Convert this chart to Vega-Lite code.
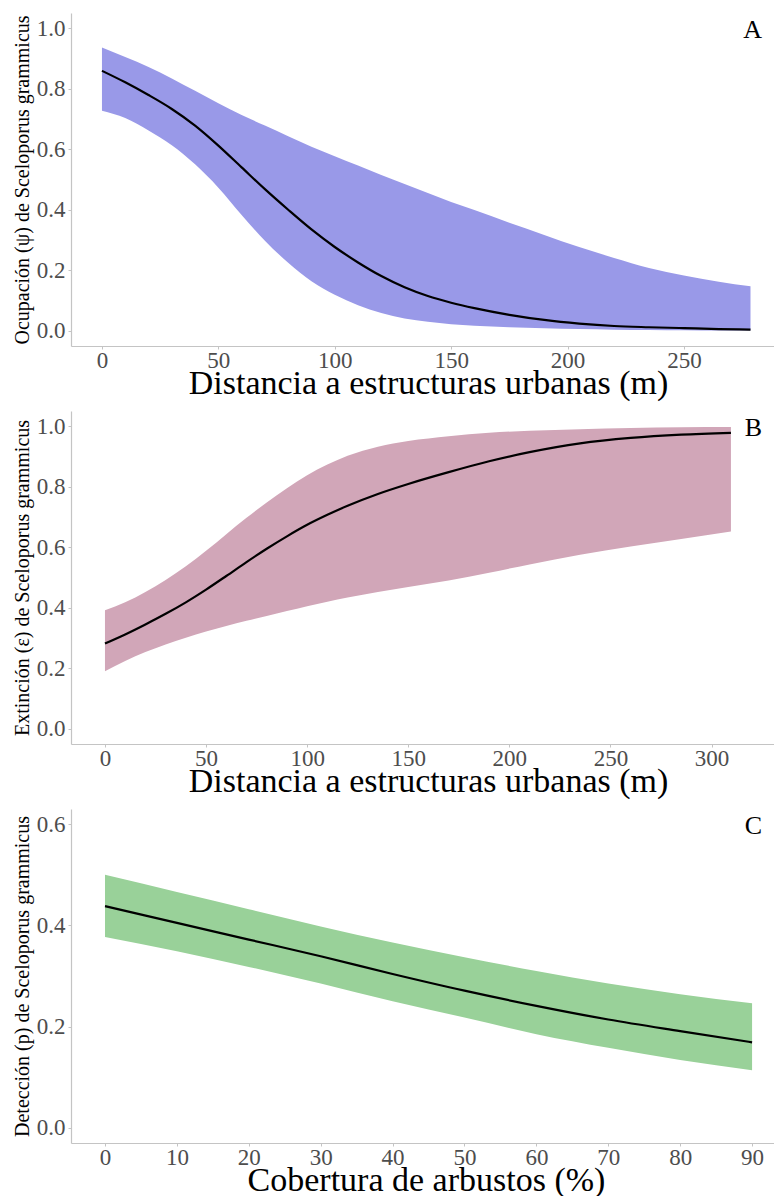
{
  "$schema": "https://vega.github.io/schema/vega-lite/v6.json",
  "padding": {"left": 12, "top": 13, "right": 0, "bottom": 0},
  "spacing": 11,
  "datasets": {
    "A": [
      {"x": 0, "mean": 0.859, "lo": 0.727, "hi": 0.936},
      {"x": 10, "mean": 0.821, "lo": 0.703, "hi": 0.905},
      {"x": 20, "mean": 0.779, "lo": 0.662, "hi": 0.872},
      {"x": 30, "mean": 0.733, "lo": 0.613, "hi": 0.834},
      {"x": 40, "mean": 0.678, "lo": 0.550, "hi": 0.793},
      {"x": 50, "mean": 0.612, "lo": 0.473, "hi": 0.752},
      {"x": 60, "mean": 0.540, "lo": 0.383, "hi": 0.713},
      {"x": 70, "mean": 0.468, "lo": 0.298, "hi": 0.678},
      {"x": 80, "mean": 0.400, "lo": 0.225, "hi": 0.643},
      {"x": 90, "mean": 0.335, "lo": 0.164, "hi": 0.608},
      {"x": 100, "mean": 0.277, "lo": 0.119, "hi": 0.577},
      {"x": 110, "mean": 0.226, "lo": 0.085, "hi": 0.546},
      {"x": 120, "mean": 0.181, "lo": 0.059, "hi": 0.515},
      {"x": 130, "mean": 0.144, "lo": 0.041, "hi": 0.485},
      {"x": 140, "mean": 0.115, "lo": 0.030, "hi": 0.455},
      {"x": 150, "mean": 0.093, "lo": 0.022, "hi": 0.426},
      {"x": 160, "mean": 0.075, "lo": 0.017, "hi": 0.399},
      {"x": 175, "mean": 0.053, "lo": 0.012, "hi": 0.357},
      {"x": 190, "mean": 0.036, "lo": 0.009, "hi": 0.317},
      {"x": 205, "mean": 0.024, "lo": 0.006, "hi": 0.277},
      {"x": 220, "mean": 0.016, "lo": 0.004, "hi": 0.241},
      {"x": 235, "mean": 0.012, "lo": 0.003, "hi": 0.208},
      {"x": 250, "mean": 0.009, "lo": 0.002, "hi": 0.183},
      {"x": 265, "mean": 0.006, "lo": 0.001, "hi": 0.162},
      {"x": 278.6, "mean": 0.004, "lo": 0.001, "hi": 0.147}
    ],
    "B": [
      {"x": 0, "mean": 0.282, "lo": 0.190, "hi": 0.392},
      {"x": 10, "mean": 0.312, "lo": 0.224, "hi": 0.418},
      {"x": 20, "mean": 0.345, "lo": 0.254, "hi": 0.452},
      {"x": 30, "mean": 0.380, "lo": 0.279, "hi": 0.492},
      {"x": 40, "mean": 0.418, "lo": 0.301, "hi": 0.537},
      {"x": 50, "mean": 0.460, "lo": 0.322, "hi": 0.588},
      {"x": 60, "mean": 0.505, "lo": 0.340, "hi": 0.643},
      {"x": 70, "mean": 0.551, "lo": 0.357, "hi": 0.697},
      {"x": 80, "mean": 0.595, "lo": 0.373, "hi": 0.748},
      {"x": 90, "mean": 0.636, "lo": 0.389, "hi": 0.795},
      {"x": 100, "mean": 0.674, "lo": 0.405, "hi": 0.838},
      {"x": 110, "mean": 0.707, "lo": 0.420, "hi": 0.873},
      {"x": 120, "mean": 0.737, "lo": 0.434, "hi": 0.902},
      {"x": 135, "mean": 0.776, "lo": 0.452, "hi": 0.932},
      {"x": 150, "mean": 0.809, "lo": 0.469, "hi": 0.951},
      {"x": 170, "mean": 0.848, "lo": 0.490, "hi": 0.967},
      {"x": 190, "mean": 0.884, "lo": 0.516, "hi": 0.978},
      {"x": 210, "mean": 0.914, "lo": 0.543, "hi": 0.985},
      {"x": 235, "mean": 0.943, "lo": 0.575, "hi": 0.990},
      {"x": 260, "mean": 0.961, "lo": 0.602, "hi": 0.994},
      {"x": 285, "mean": 0.972, "lo": 0.627, "hi": 0.996},
      {"x": 309.6, "mean": 0.978, "lo": 0.652, "hi": 0.997}
    ],
    "C": [
      {"x": 0, "mean": 0.438, "lo": 0.377, "hi": 0.500},
      {"x": 10, "mean": 0.405, "lo": 0.349, "hi": 0.466},
      {"x": 20, "mean": 0.372, "lo": 0.318, "hi": 0.432},
      {"x": 30, "mean": 0.339, "lo": 0.285, "hi": 0.398},
      {"x": 40, "mean": 0.304, "lo": 0.250, "hi": 0.366},
      {"x": 50, "mean": 0.271, "lo": 0.218, "hi": 0.337},
      {"x": 60, "mean": 0.241, "lo": 0.185, "hi": 0.310},
      {"x": 70, "mean": 0.214, "lo": 0.158, "hi": 0.285},
      {"x": 80, "mean": 0.191, "lo": 0.134, "hi": 0.264},
      {"x": 90, "mean": 0.169, "lo": 0.114, "hi": 0.246}
    ]
  },
  "vconcat": [
    {
      "width": 703, "height": 333,
      "data": {"name": "A"},
      "title": {"text": "A", "anchor": "end", "frame": "group", "baseline": "top", "offset": -30, "dx": -12, "fontSize": 26, "font": "Liberation Serif", "fontWeight": "normal", "color": "black"},
      "encoding": {
        "x": {"field": "x", "type": "quantitative", "scale": {"domain": [-13.3, 288.7], "nice": false, "zero": false},
              "axis": {"values": [0, 50, 100, 150, 200, 250], "title": "Distancia a estructuras urbanas (m)", "titleX": 357}},
        "y": {"field": "mean", "type": "quantitative", "scale": {"domain": [-0.05, 1.05], "nice": false, "zero": false},
              "axis": {"values": [0, 0.2, 0.4, 0.6, 0.8, 1.0], "format": ".1f", "title": "Ocupación (ψ) de Sceloporus grammicus"}}
      },
      "layer": [
        {"mark": {"type": "area", "color": "#9999E8", "opacity": 1, "interpolate": "monotone"},
         "encoding": {"y": {"field": "lo", "type": "quantitative"}, "y2": {"field": "hi"}}},
        {"mark": {"type": "line", "color": "black", "strokeWidth": 2.2, "interpolate": "monotone"}}
      ]
    },
    {
      "width": 703, "height": 333,
      "data": {"name": "B"},
      "title": {"text": "B", "anchor": "end", "frame": "group", "baseline": "top", "offset": -30, "dx": -12, "fontSize": 26, "font": "Liberation Serif", "fontWeight": "normal", "color": "black"},
      "encoding": {
        "x": {"field": "x", "type": "quantitative", "scale": {"domain": [-16.8, 330.9], "nice": false, "zero": false},
              "axis": {"values": [0, 50, 100, 150, 200, 250, 300], "title": "Distancia a estructuras urbanas (m)", "titleX": 357}},
        "y": {"field": "mean", "type": "quantitative", "scale": {"domain": [-0.05, 1.05], "nice": false, "zero": false},
              "axis": {"values": [0, 0.2, 0.4, 0.6, 0.8, 1.0], "format": ".1f", "title": "Extinción (ε) de Sceloporus grammicus"}}
      },
      "layer": [
        {"mark": {"type": "area", "color": "#D1A6B8", "opacity": 1, "interpolate": "monotone"},
         "encoding": {"y": {"field": "lo", "type": "quantitative"}, "y2": {"field": "hi"}}},
        {"mark": {"type": "line", "color": "black", "strokeWidth": 2.2, "interpolate": "monotone"}}
      ]
    },
    {
      "width": 703, "height": 334,
      "data": {"name": "C"},
      "title": {"text": "C", "anchor": "end", "frame": "group", "baseline": "top", "offset": -30, "dx": -12, "fontSize": 26, "font": "Liberation Serif", "fontWeight": "normal", "color": "black"},
      "encoding": {
        "x": {"field": "x", "type": "quantitative", "scale": {"domain": [-4.73, 93.05], "nice": false, "zero": false},
              "axis": {"values": [0, 10, 20, 30, 40, 50, 60, 70, 80, 90], "title": "Cobertura de arbustos (%)", "titleX": 355}},
        "y": {"field": "mean", "type": "quantitative", "scale": {"domain": [-0.03, 0.63], "nice": false, "zero": false},
              "axis": {"values": [0, 0.2, 0.4, 0.6], "format": ".1f", "title": "Detección (p) de Sceloporus grammicus"}}
      },
      "layer": [
        {"mark": {"type": "area", "color": "#99D199", "opacity": 1, "interpolate": "monotone"},
         "encoding": {"y": {"field": "lo", "type": "quantitative"}, "y2": {"field": "hi"}}},
        {"mark": {"type": "line", "color": "black", "strokeWidth": 2.2, "interpolate": "monotone"}}
      ]
    }
  ],
  "config": {
    "view": {"stroke": null},
    "font": "Liberation Serif",
    "axis": {
      "grid": false,
      "domainColor": "#c4c4c4",
      "domainWidth": 1.2,
      "tickColor": "#c4c4c4",
      "tickSize": 3,
      "labelFont": "Liberation Serif",
      "labelFontSize": 23,
      "labelColor": "#4d4d4d",
      "titleFont": "Liberation Serif",
      "titleFontWeight": "normal",
      "titleColor": "black"
    },
    "axisX": {"labelPadding": 0, "titleFontSize": 34, "titlePadding": -6},
    "axisY": {"labelPadding": 3, "titleFontSize": 20, "titlePadding": 4}
  }
}
